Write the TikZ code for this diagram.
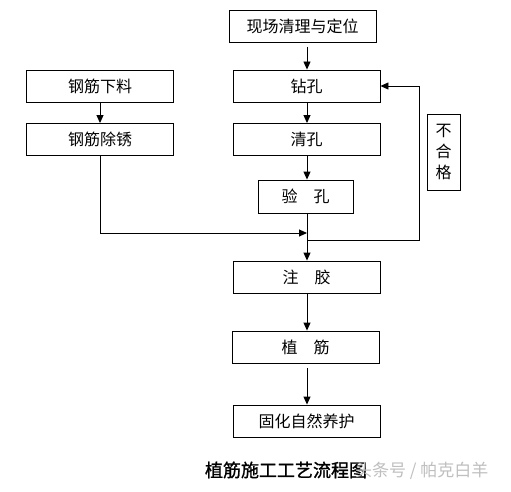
\documentclass[tikz,border=0pt]{standalone}
\usepackage{fontspec}
\setmainfont{Noto Sans CJK SC}
\newfontfamily\capfont[FakeBold=1.2]{Noto Sans CJK SC}
\usetikzlibrary{arrows.meta}
\begin{document}
\begin{tikzpicture}[x=1pt,y=-1pt,
  stepbox/.style={draw, line width=0.9pt, minimum width=147pt, minimum height=32pt, inner sep=0pt, font=\fontsize{16}{18}\selectfont},
  conn/.style={line width=0.9pt, -{Triangle[length=8pt,width=7pt]}},
  plain/.style={line width=0.9pt}]
\useasboundingbox (0,0) rectangle (511,492);
\fill[white] (0,0) rectangle (511,492);
\node[stepbox] (xc) at (302.5,26) {现场清理与定位};
\node[stepbox] (zk) at (306.5,86) {钻孔};
\node[stepbox] (xl) at (100,86) {钢筋下料};
\node[stepbox] (cx) at (100,139.5) {钢筋除锈};
\node[stepbox] (qk) at (306.5,139.5) {清孔};
\node[stepbox, minimum width=95pt, minimum height=33pt] (yk) at (305.5,196.5) {验\hspace{1em}孔};
\node[draw, line width=0.9pt, minimum width=33pt, minimum height=76pt, inner sep=0pt, align=center, font=\fontsize{16}{21}\selectfont] (bhg) at (443.5,152) {不\\合\\格};
\node[stepbox] (zj) at (306.5,277) {注\hspace{1em}胶};
\node[stepbox] (zhj) at (305.5,347) {植\hspace{1em}筋};
\node[stepbox] (gh) at (306.5,421) {固化自然养护};
\node[font=\capfont\fontsize{18}{20}\selectfont] (cap) at (286,470) {植筋施工工艺流程图};
\node[font=\fontsize{17}{18}\selectfont, text=black!25, anchor=west, inner sep=0pt] (wm) at (355,471) {头条号 / 帕克白羊};
\coordinate (c1) at (307,47);
\coordinate (c2) at (307,368);
\coordinate (j1) at (307,233);
\coordinate (j2) at (307,240);
\coordinate (l1) at (100,233);
\coordinate (r1) at (419,240);
\coordinate (r2) at (419,86);
\draw[conn] (c1) -- (zk.north -| c1);
\draw[conn] (xl) -- (cx);
\draw[conn] (zk.south -| j1) -- (qk.north -| j1);
\draw[conn] (qk.south -| j1) -- (yk.north -| j1);
\draw[conn] (yk.south -| j1) -- (zj.north -| j1);
\draw[conn] (cx.south) -- (l1) -- (j1);
\draw[conn] (j2) -- (r1) -- (r2) -- (zk.east);
\draw[conn] (zj.south -| j1) -- (zhj.north -| j1);
\draw[conn] (c2) -- (gh.north -| c2);
\end{tikzpicture}
\end{document}
